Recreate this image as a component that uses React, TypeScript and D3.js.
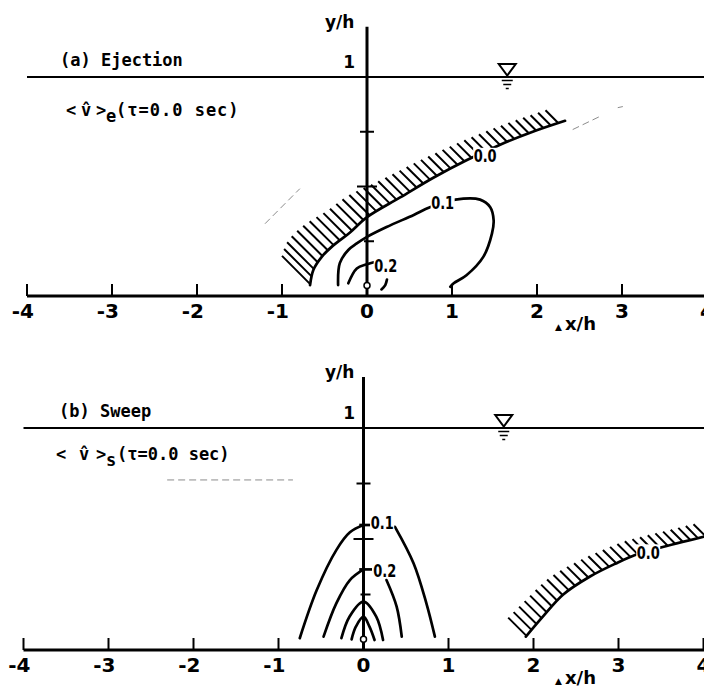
import React from "react";
import * as d3 from "d3";

type Pt = [number, number];

const X_TICKS: number[] = [-4, -3, -2, -1, 0, 1, 2, 3, 4];
const Y_TICKS: number[] = [0.25, 0.5, 0.75];
const Y_AXIS_TOP = 1.23;
const SURFACE_X = 1.65;
const PROBE: Pt = [0, 0.048];

// (a) Ejection: contours of <v̂>e at tau = 0.0 sec
const EJ_ZERO: Pt[] = [
  [-0.67, 0.05], [-0.63, 0.12], [-0.53, 0.18], [-0.4, 0.23], [-0.2, 0.29],
  [0, 0.36], [0.39, 0.45], [0.78, 0.54], [1.17, 0.62], [1.56, 0.69],
  [1.95, 0.75], [2.33, 0.8],
];
const EJ_01: Pt[] = [
  [-0.34, 0.05], [-0.32, 0.15], [-0.22, 0.21], [-0.12, 0.24], [0, 0.27],
  [0.23, 0.315], [0.55, 0.37], [0.74, 0.405], [1.04, 0.44], [1.33, 0.44],
  [1.45, 0.405], [1.49, 0.345], [1.47, 0.285], [1.37, 0.18], [1.17, 0.095],
  [1.02, 0.058], [0.98, 0.042],
];
const EJ_02_LEFT: Pt[] = [[-0.22, 0.058], [-0.12, 0.126], [0, 0.145], [0.09, 0.155]];
const EJ_02_RIGHT: Pt[] = [[0.235, 0.075], [0.215, 0.05], [0.17, 0.03]];
const EJ_LABELS: { text: string; at: Pt }[] = [
  { text: "0.0", at: [1.39, 0.64] },
  { text: "0.1", at: [0.89, 0.425] },
  { text: "0.2", at: [0.22, 0.137] },
];

// (b) Sweep: contours of <v̂>s at tau = 0.0 sec
const SW_ZERO: Pt[] = [
  [1.91, 0.06], [2.11, 0.15], [2.35, 0.25], [2.66, 0.33], [2.97, 0.39],
  [3.21, 0.43], [3.48, 0.46], [4.05, 0.515],
];
const SW_01_LEFT: Pt[] = [[-0.75, 0.053], [-0.55, 0.27], [-0.32, 0.45], [-0.16, 0.53], [0, 0.563]];
const SW_01_RIGHT: Pt[] = [[0.37, 0.555], [0.59, 0.39], [0.74, 0.21], [0.84, 0.06]];
const SW_02_LEFT: Pt[] = [[-0.47, 0.06], [-0.32, 0.21], [-0.16, 0.315], [0, 0.363]];
const SW_02_RIGHT: Pt[] = [[0.27, 0.315], [0.39, 0.195], [0.45, 0.06]];
const SW_03: Pt[] = [[-0.26, 0.053], [-0.165, 0.15], [0, 0.218], [0.15, 0.15], [0.23, 0.045]];
const SW_04: Pt[] = [[-0.14, 0.048], [-0.09, 0.105], [0, 0.15], [0.07, 0.105], [0.13, 0.045]];
const SW_LABELS: { text: string; at: Pt }[] = [
  { text: "0.0", at: [3.35, 0.44] },
  { text: "0.1", at: [0.22, 0.572] },
  { text: "0.2", at: [0.25, 0.36] },
];
const SW_LEADERS: Pt[][] = [
  [[-0.05, 0.563], [0.08, 0.563]],
  [[-0.05, 0.363], [0.1, 0.363]],
];

// faint dashed traces printed through the sheet
const EJ_TRACES: Pt[][] = [
  [[-1.2, 0.33], [-0.79, 0.49]],
  [[2.42, 0.76], [2.74, 0.82]],
  [[2.95, 0.86], [3.01, 0.865]],
];
const SW_TRACES: Pt[][] = [[[-2.31, 0.766], [-0.83, 0.766]]];

const SANS = '"DejaVu Sans", Verdana, sans-serif';
const MONO = '"DejaVu Sans Mono", monospace';

// Flatten a Catmull-Rom curve through px points into a dense polyline
function sampleCurve(pts: Pt[]): Pt[] {
  const out: Pt[] = [];
  let cx = 0;
  let cy = 0;
  const ctx: any = {
    moveTo(x: number, y: number) { out.push([x, y]); cx = x; cy = y; },
    lineTo(x: number, y: number) { out.push([x, y]); cx = x; cy = y; },
    bezierCurveTo(x1: number, y1: number, x2: number, y2: number, x: number, y: number) {
      for (let i = 1; i <= 24; i++) {
        const t = i / 24;
        const u = 1 - t;
        out.push([
          u * u * u * cx + 3 * u * u * t * x1 + 3 * u * t * t * x2 + t * t * t * x,
          u * u * u * cy + 3 * u * u * t * y1 + 3 * u * t * t * y2 + t * t * t * y,
        ]);
      }
      cx = x; cy = y;
    },
    closePath() {},
  };
  d3.line().curve(d3.curveCatmullRom.alpha(0.5)).context(ctx)(pts as any);
  return out;
}

// Short 45° strokes on the upper-left side of a curve
function hatchPath(poly: Pt[], spacing: number, lenAt: (t: number) => number): string {
  const cum = [0];
  for (let i = 1; i < poly.length; i++) {
    cum.push(cum[i - 1] + Math.hypot(poly[i][0] - poly[i - 1][0], poly[i][1] - poly[i - 1][1]));
  }
  const total = cum[cum.length - 1];
  let d = "";
  let j = 0;
  for (let s = 1; s <= total; s += spacing) {
    while (j < poly.length - 2 && cum[j + 1] < s) j++;
    const seg = cum[j + 1] - cum[j] || 1;
    const f = (s - cum[j]) / seg;
    const x = poly[j][0] + f * (poly[j + 1][0] - poly[j][0]);
    const y = poly[j][1] + f * (poly[j + 1][1] - poly[j][1]);
    const L = lenAt(s / total) / Math.SQRT2;
    d += `M${x.toFixed(1)},${y.toFixed(1)}L${(x - L).toFixed(1)},${(y - L).toFixed(1)}`;
  }
  return d;
}

type PanelProps = {
  xRange: [number, number];
  yBase: number;
  yOne: number;
  title: string;
  titleX: number;
  sub: string;
  subX: number[];
  subY: number;
  subSpacing: number;
  zero: Pt[];
  hatchLen: (t: number) => number;
  contours: Pt[][];
  labels: { text: string; at: Pt }[];
  leaders: Pt[][];
  traces: Pt[][];
};

function Panel(p: PanelProps) {
  const x = d3.scaleLinear().domain([-4, 4]).range(p.xRange);
  const y = d3.scaleLinear().domain([0, 1]).range([p.yBase, p.yOne]);
  const line = d3
    .line<Pt>()
    .x((d) => x(d[0]))
    .y((d) => y(d[1]))
    .curve(d3.curveCatmullRom.alpha(0.5));
  const straight = d3.line<Pt>().x((d) => x(d[0])).y((d) => y(d[1]));

  const zeroPx: Pt[] = p.zero.map((d) => [x(d[0]), y(d[1])]);
  const hatch = hatchPath(sampleCurve(zeroPx), 7.8, p.hatchLen);

  const x0 = x(0);
  const sx = x(SURFACE_X);
  const yo = p.yOne;
  const tickHalf: Record<number, [number, number]> = { 0.25: [-3, 7], 0.5: [-10, 10], 0.75: [-7, 7] };

  return (
    <g>
      {/* faint traces */}
      {p.traces.map((t, i) => (
        <path key={"tr" + i} d={straight(t) || ""} fill="none" stroke="#8c8c8c" strokeWidth={1} strokeDasharray="7 4" />
      ))}

      {/* free-surface line y/h = 1 */}
      <line x1={x(-4)} x2={720} y1={yo} y2={yo} stroke="#000" strokeWidth={2} />
      <path d={`M${sx - 8.5},${yo - 13}L${sx + 8.5},${yo - 13}L${sx},${yo - 1.5}Z`} fill="#fff" stroke="#000" strokeWidth={2} strokeLinejoin="miter" />
      <line x1={sx - 5.5} x2={sx + 5.5} y1={yo + 3.5} y2={yo + 3.5} stroke="#000" strokeWidth={1.5} />
      <line x1={sx - 4} x2={sx + 4} y1={yo + 7.5} y2={yo + 7.5} stroke="#000" strokeWidth={1.5} />
      <line x1={sx - 1.5} x2={sx + 1.5} y1={yo + 11.5} y2={yo + 11.5} stroke="#000" strokeWidth={1.5} />

      {/* zero contour with hatching */}
      <path d={hatch} stroke="#000" strokeWidth={2} fill="none" />
      <path d={line(p.zero) || ""} stroke="#000" strokeWidth={2.7} fill="none" strokeLinecap="round" />

      {/* other contours */}
      {p.contours.map((c, i) => (
        <path key={"c" + i} d={line(c) || ""} stroke="#000" strokeWidth={2.7} fill="none" strokeLinecap="round" />
      ))}
      {p.leaders.map((c, i) => (
        <path key={"ld" + i} d={straight(c) || ""} stroke="#000" strokeWidth={2.7} fill="none" />
      ))}

      {/* contour labels */}
      {p.labels.map((l, i) => (
        <g key={"l" + i}>
          <rect x={x(l.at[0]) - 12} y={y(l.at[1]) - 8} width={24} height={15} fill="#fff" />
          <text
            x={x(l.at[0])}
            y={y(l.at[1])}
            dy="0.36em"
            textAnchor="middle"
            fontFamily={SANS}
            fontWeight="bold"
            fontSize={18}
            textLength={23}
            lengthAdjust="spacingAndGlyphs"
          >
            {l.text}
          </text>
        </g>
      ))}

      {/* x axis */}
      <line x1={x(-4)} x2={720} y1={p.yBase} y2={p.yBase} stroke="#000" strokeWidth={3} />
      {X_TICKS.map((t) => (
        <g key={"xt" + t}>
          <line x1={x(t)} x2={x(t)} y1={p.yBase} y2={p.yBase - 12} stroke="#000" strokeWidth={2} />
          <text x={x(t) + 7} y={p.yBase + 22} textAnchor="end" fontFamily={SANS} fontWeight="bold" fontSize={20}>
            {`${t}`}
          </text>
        </g>
      ))}
      <text x={555} y={p.yBase + 34} fontFamily={SANS} fontSize={9}>▲</text>
      <text x={565} y={p.yBase + 34} fontFamily={SANS} fontWeight="bold" fontSize={18}>x/h</text>

      {/* y axis */}
      <line x1={x0} x2={x0} y1={p.yBase} y2={y(Y_AXIS_TOP)} stroke="#000" strokeWidth={3} />
      {Y_TICKS.map((t) => (
        <line key={"yt" + t} x1={x0 + tickHalf[t][0]} x2={x0 + tickHalf[t][1]} y1={y(t)} y2={y(t)} stroke="#000" strokeWidth={2} />
      ))}
      <text x={355} y={yo - 9} textAnchor="end" fontFamily={SANS} fontWeight="bold" fontSize={17}>1</text>
      <text x={325} y={y(Y_AXIS_TOP) + 1} fontFamily={SANS} fontWeight="bold" fontSize={17}>y/h</text>
      <circle cx={x(PROBE[0])} cy={y(PROBE[1])} r={3} fill="#fff" stroke="#000" strokeWidth={1.5} />

      {/* captions */}
      <text x={p.titleX} y={yo - 11} fontFamily={MONO} fontWeight="bold" fontSize={17}>{p.title}</text>
      <g fontFamily={MONO} fontWeight="bold" fontSize={17}>
        <text x={p.subX[0]} y={p.subY}>{"<"}</text>
        <text x={p.subX[1]} y={p.subY}>{"v\u0302"}</text>
        <text x={p.subX[2]} y={p.subY}>{">"}</text>
        <text x={p.subX[3]} y={p.subY + 6}>{p.sub}</text>
        <text x={p.subX[4]} y={p.subY} letterSpacing={p.subSpacing}>{"(τ=0.0 sec)"}</text>
      </g>
    </g>
  );
}

export default function App() {
  return (
    <svg
      width={704}
      height={687}
      style={{ position: "absolute", left: 0, top: 0, background: "#fff" }}
    >
      <rect width={704} height={687} fill="#fff" />
      <Panel
        xRange={[27, 707]}
        yBase={296}
        yOne={77}
        title="(a) Ejection"
        titleX={60}
        sub="e"
        subX={[66, 81, 96, 106, 116]}
        subY={116}
        subSpacing={1}
        zero={EJ_ZERO}
        hatchLen={(t) => 18 + 22 * (1 - t) * (1 - t)}
        contours={[EJ_01, EJ_02_LEFT, EJ_02_RIGHT]}
        labels={EJ_LABELS}
        leaders={[]}
        traces={EJ_TRACES}
      />
      <Panel
        xRange={[23.5, 703.5]}
        yBase={650}
        yOne={428}
        title="(b) Sweep"
        titleX={59}
        sub="s"
        subX={[56, 79, 96, 106, 117]}
        subY={460}
        subSpacing={0}
        zero={SW_ZERO}
        hatchLen={(t) => 17 + 9 * (1 - t) * (1 - t)}
        contours={[SW_01_LEFT, SW_01_RIGHT, SW_02_LEFT, SW_02_RIGHT, SW_03, SW_04]}
        labels={SW_LABELS}
        leaders={SW_LEADERS}
        traces={SW_TRACES}
      />
    </svg>
  );
}
